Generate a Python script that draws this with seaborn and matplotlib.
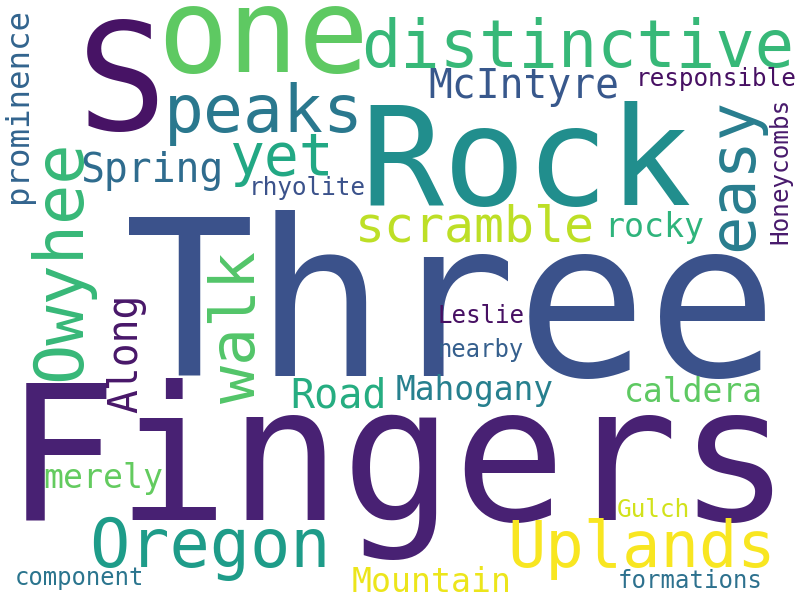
"""word cloud: Three Fingers Rock

"""

##

import matplotlib
matplotlib.use('Agg')
import matplotlib.pyplot as plt
import seaborn as sns
from matplotlib.font_manager import FontProperties
from matplotlib.textpath import TextPath

##
words = ['Three' , 'Fingers' , 'Rock' , 'S' , 'one' , 'distinctive' , 'peaks' ,
         'yet' , 'Spring' , 'rhyolite' , 'McIntyre' , 'responsible' ,
         'scramble' , 'rocky' , 'Leslie' , 'nearby' , 'Road' , 'Mahogany' ,
         'caldera' , 'merely' , 'Oregon' , 'Uplands' , 'Gulch' , 'Mountain' ,
         'component' , 'formations' ,
         'prominence' , 'Owyhee' , 'walk' , 'easy' , 'Along' , 'Honeycombs']

# viridis position of each word
shades = [.25 , .09 , .49 , .05 , .75 , .67 , .40 ,
          .60 , .35 , .25 , .27 , .04 ,
          .90 , .65 , .04 , .30 , .62 , .43 ,
          .75 , .76 , .55 , .99 , .93 , .97 ,
          .39 , .37 ,
          .32 , .67 , .73 , .42 , .06 , .07]

# layout, in px of the 800x600 canvas
# start / end of the ink along the writing direction, and the baseline
ink_a = [129 , 26 , 370 , 87 , 165 , 365 , 170 ,
         232 , 83 , 253 , 430 , 640 ,
         360 , 610 , 440 , 440 , 293 , 397 ,
         627 , 45 , 93 , 512 , 618 , 353 ,
         17 , 620 ,
         200 , 377 , 403 , 247 , 412 , 242]
ink_b = [765 , 773 , 690 , 157 , 362 , 790 , 357 ,
         328 , 220 , 365 , 617 , 795 ,
         592 , 703 , 523 , 523 , 383 , 552 ,
         760 , 162 , 325 , 770 , 688 , 508 ,
         142 , 760 ,
         10 , 143 , 252 , 100 , 297 , 100]
base = [376 , 520 , 205 , 130 , 72 , 67 , 132 ,
        175 , 182 , 195 , 98 , 86 ,
        242 , 237 , 323 , 357 , 407 , 400 ,
        402 , 488 , 567 , 567 , 517 , 592 ,
        585 , 588 ,
        27 , 80 , 255 , 752 , 137 , 787]
rots = [0] * 26 + [90] * 6

##
sns.set_theme(style='white')
plt.rcParams['font.family'] = ['DejaVu Sans Mono' , 'DejaVu Sans']
cmap = sns.color_palette('viridis' , as_cmap=True)
fp = FontProperties(family='DejaVu Sans Mono')

fig = plt.figure(figsize=(8 , 6) , dpi=100)
ax = fig.add_axes([0 , 0 , 1 , 1])
ax.set_xlim(0 , 800)
ax.set_ylim(600 , 0)
ax.axis('off')

for w , c , a , b , bl , r in zip(words , shades , ink_a , ink_b , base , rots) :
  ext = TextPath((0 , 0) , w , size=1 , prop=fp).get_extents()
  size = abs(b - a) / ext.width
  mid = (a + b) / 2
  off = (ext.x0 + ext.x1) / 2 * size
  if r == 0 :
    x , y = mid - off , bl
  else :
    x , y = bl , mid + off
  ax.text(x , y , w , fontsize=size * 72 / 100 , color=cmap(c) ,
          fontproperties=fp , ha='left' , va='baseline' ,
          rotation=r , rotation_mode='anchor')

##
fig.savefig('out.png' , dpi=100 , facecolor='white')
